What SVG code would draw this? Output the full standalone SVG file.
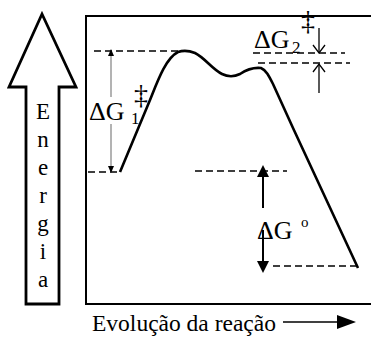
<svg xmlns="http://www.w3.org/2000/svg" width="371" height="337" viewBox="0 0 371 337">
<style>
.dash{stroke:#000;stroke-width:1.5;stroke-dasharray:7,4;fill:none}
.thin{stroke:#000;stroke-width:1.3;fill:none}
.thick{stroke:#000;stroke-width:2;fill:none}
.head{fill:#000;stroke:none}
</style>
<rect width="371" height="337" fill="#fff"/>
<g id="energy-axis">
<polygon points="26,304 26,87 9,87 42,14 76,87 59,87 59,304" fill="#fff" stroke="#000" stroke-width="2.8" stroke-linejoin="miter"/>
<g font-family="'Liberation Serif', serif" font-size="23" text-anchor="middle" fill="#000">
<text x="43" y="119">E</text>
<text x="43" y="147">n</text>
<text x="43" y="175">e</text>
<text x="43" y="203">r</text>
<text x="43" y="231">g</text>
<text x="43" y="259">i</text>
<text x="43" y="287">a</text>
</g>
</g>
<g id="frame">
<path d="M371,16 H86 V304 H371" fill="none" stroke="#000" stroke-width="2"/>
</g>
<g id="reference-lines">
<line class="dash" x1="94" y1="51" x2="182" y2="51"/>
<line class="dash" x1="88" y1="172" x2="120" y2="172"/>
<line class="dash" x1="195" y1="171" x2="287" y2="171"/>
<line class="dash" x1="273" y1="266" x2="357" y2="266"/>
<line class="dash" x1="253" y1="53" x2="345" y2="53"/>
<line class="dash" x1="258" y1="63" x2="350" y2="63"/>
</g>
<g id="energy-curve">
<path d="M120,172 L150,100 C158,80 166,58 178,52 C184,50 190,51 195,53 C205,58 212,69 222,74 C228,77 234,77 240,74 C246,70 252,67 261,68 C266,70 269,76 273,84 L293,128 L358,268" fill="none" stroke="#000" stroke-width="2.6" stroke-linejoin="round"/>
</g>
<g id="connectors">
<g id="dG1-arrow">
<line x1="111" y1="55" x2="111" y2="97" stroke="#808080" stroke-width="1.2"/>
<line x1="111" y1="124" x2="111" y2="168" stroke="#808080" stroke-width="1.2"/>
<polygon class="head" points="111,49 108,56 114,56"/>
<polygon class="head" points="111,173 108,166 114,166"/>
</g>
<g id="dG2-arrows">
<line class="thin" x1="319" y1="28" x2="319" y2="53"/>
<polyline class="thin" points="313,45 319,53 325,45"/>
<line class="thin" x1="319" y1="93" x2="319" y2="64"/>
<polyline class="thin" points="313,72 319,64 325,72"/>
</g>
<g id="dG0-arrows">
<line class="thick" x1="263" y1="208" x2="263" y2="175"/>
<polygon class="head" points="263,165 257,177 269,177"/>
<line class="thick" x1="263" y1="230" x2="263" y2="263"/>
<polygon class="head" points="263,273 257,261 269,261"/>
</g>
<g id="x-arrow">
<line class="thin" x1="283" y1="322" x2="340" y2="322"/>
<polygon class="head" points="356,322 337,315 337,329"/>
</g>
</g>
<g font-family="'Liberation Serif', serif" fill="#000">
<g id="label-dG1">
<text x="89" y="120" font-size="26">ΔG</text>
<text x="131" y="124" font-size="17">1</text>
<text x="134" y="104" font-size="28">‡</text>
</g>
<g id="label-dG2">
<text x="254" y="48" font-size="26">ΔG</text>
<text x="292" y="53" font-size="17">2</text>
<text x="301" y="30" font-size="28">‡</text>
</g>
<g id="label-dG0">
<text x="257" y="239" font-size="26">ΔG</text>
<text x="301" y="227" font-size="15">o</text>
</g>
<g id="x-label">
<text x="92" y="331" font-size="23.5">Evolução da reação</text>
</g>
</g>
</svg>
